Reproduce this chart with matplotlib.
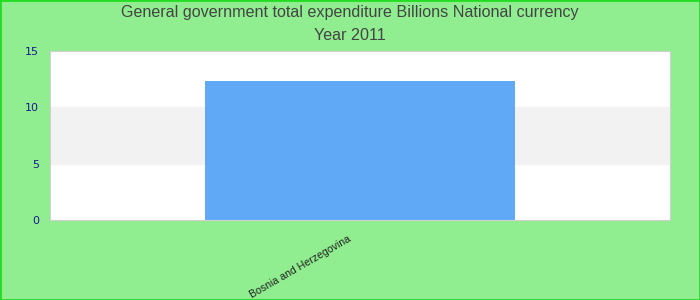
import matplotlib
matplotlib.use("Agg")
import matplotlib.pyplot as plt
from matplotlib.patches import Rectangle
from matplotlib.transforms import ScaledTranslation

# Chart data
countries = ["Bosnia and Herzegovina"]
expenditure = [12.35]
y_ticks = [0, 5, 10, 15]

fig = plt.figure(figsize=(7, 3), dpi=100, facecolor="#90ee90")
ax = fig.add_axes([50 / 700, 1 - 220 / 300, 620 / 700, 169 / 300])
ax.set_facecolor("white")

# Alternating band between ticks
ax.axhspan(5, 10, color="#f2f2f2", zorder=0)

ax.bar(range(len(countries)), expenditure, width=0.5, color="#60a9f6", zorder=2)
ax.set_xlim(-0.5, len(countries) - 0.5)
ax.set_ylim(0, 15)
ax.set_yticks(y_ticks)
ax.set_yticklabels([str(t) for t in y_ticks], color="#1a1a8c", fontsize=8)
ax.set_xticks(range(len(countries)))
ax.set_xticklabels(countries, rotation=30, ha="right", va="center", rotation_mode="anchor",
                   fontsize=7.6, color="#222222", family="Liberation Sans")
ax.tick_params(axis="y", length=0, pad=8)
ax.tick_params(axis="x", length=0, pad=13)
shift = ScaledTranslation(-10 / 100, 0, fig.dpi_scale_trans)
for lbl in ax.get_xticklabels():
    lbl.set_transform(lbl.get_transform() + shift)
for s in ax.spines.values():
    s.set_color("#d0d0d0")

fig.text(0.5, 1 - 13 / 300, "General government total expenditure Billions National currency",
         ha="center", va="center", fontsize=11.6, color="#444444", family="Liberation Sans")
fig.text(0.5, 1 - 36 / 300, "Year 2011",
         ha="center", va="center", fontsize=11.6, color="#444444", family="Liberation Sans")

# Outer green border
fig.patches.append(Rectangle((0, 0), 1, 1, transform=fig.transFigure, fill=False,
                             edgecolor="#22dd22", linewidth=2))

fig.savefig("out.png", dpi=100, facecolor=fig.get_facecolor())
